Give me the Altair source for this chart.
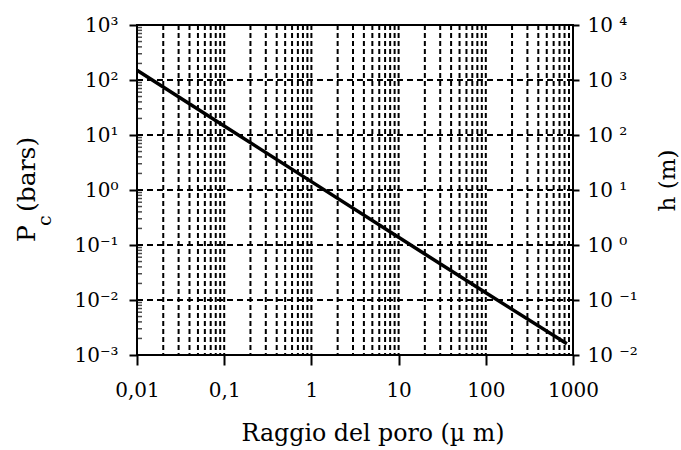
import math
import altair as alt
import pandas as pd

# Values
radius_um = [0.01, 0.1, 1, 10, 100, 850]
pc_bars = [150, 14.6, 1.42, 0.138, 0.0135, 0.0016]
h_m = [v * 10.2 for v in pc_bars]  # right axis scale: metres of water

x_major = [0.01, 0.1, 1, 10, 100, 1000]
x_grid = [m * d for d in [0.01, 0.1, 1, 10, 100] for m in range(2, 11)]
y_left_major = [1e-3, 1e-2, 1e-1, 1, 10, 100, 1000]
y_left_grid = [1e-2, 1e-1, 1, 10, 100]
y_left_minor = [m * d for d in [1e-3, 1e-2, 1e-1, 1, 10, 100] for m in range(2, 10)]
y_right_major = [1e-2, 1e-1, 1, 10, 100, 1000, 1e4]
x_labels = {0.01: "0,01", 0.1: "0,1", 1: "1", 10: "10", 100: "100", 1000: "1000"}
x_title = "Raggio del poro (µ m)"

FONT = "DejaVu Serif"
W, H = 436, 330

line_df = pd.DataFrame({"r": radius_um, "pc": pc_bars, "h": h_m})
vgrid_df = pd.DataFrame({"r": x_grid})
hgrid_df = pd.DataFrame({"pc": y_left_grid})
minor_df = pd.DataFrame({"pc": y_left_minor})

xscale = alt.Scale(type="log", domain=[0.01, 1000], nice=False)
yscale = alt.Scale(type="log", domain=[1e-3, 1e3], nice=False)
hscale = alt.Scale(type="log", domain=[1e-2, 1e4], nice=False)

sup = {"-3": "⁻³", "-2": "⁻²", "-1": "⁻¹", "0": "⁰", "1": "¹", "2": "²", "3": "³", "4": "⁴"}
def pow_expr(space):
    e = "round(log(datum.value)/LN10)"
    expr = "''"
    for k, v in sup.items():
        expr = f"({e} == {k} ? '10{space}{v}' : {expr})"
    return expr

xlab = "''"
for v, t in x_labels.items():
    xlab = f"(abs(log(datum.value)/LN10 - ({round(math.log10(v))})) < 0.01 ? '{t}' : {xlab})"

x_axis = alt.Axis(
    values=x_major, grid=False, domain=False, ticks=True, tickSize=10, tickWidth=2,
    tickColor="black", labelExpr=xlab, labelFont=FONT, labelFontSize=20,
    labelColor="black", labelPadding=15, labelFlush=False, title=None,
)
y_axis = alt.Axis(
    values=y_left_major, grid=False, domain=False, tickSize=8, tickWidth=2,
    tickColor="black", labelExpr=pow_expr(""), labelFont=FONT, labelFontSize=20,
    labelColor="black", labelPadding=11, labelFlush=False, title=None,
)
h_axis = alt.Axis(
    orient="right", values=y_right_major, grid=False, domain=False, tickSize=6,
    tickWidth=2, tickColor="black", labelExpr=pow_expr(" "), labelFont=FONT,
    labelFontSize=20, labelColor="black", labelPadding=8, labelFlush=False,
    title="h (m)", titleFont=FONT, titleFontSize=23, titleFontWeight="normal",
    titleColor="black", titleAngle=270, titleX=94, titleY=155,
    titleAlign="center", titleBaseline="middle",
)

line = alt.Chart(line_df).mark_line(color="black", strokeWidth=3.5).encode(
    x=alt.X("r:Q", scale=xscale, axis=x_axis),
    y=alt.Y("pc:Q", scale=yscale, axis=y_axis),
)

vgrid = alt.Chart(vgrid_df).mark_rule(
    color="black", strokeWidth=2, strokeDash=[5, 3]
).encode(x=alt.X("r:Q", scale=xscale, axis=x_axis))

hgrid = alt.Chart(hgrid_df).mark_rule(
    color="black", strokeWidth=2, strokeDash=[6, 4]
).encode(y=alt.Y("pc:Q", scale=yscale, axis=y_axis))

minor = alt.Chart(minor_df).mark_tick(
    color="black", orient="horizontal", size=6, thickness=1.5
).encode(y=alt.Y("pc:Q", scale=yscale, axis=y_axis), x=alt.value(2))

one = alt.Data(values=[{"a": 1}])
def txt(s, size, x, y, angle=270, align="left"):
    return alt.Chart(one).mark_text(
        text=s, angle=angle, font=FONT, fontSize=size, align=align,
        baseline="alphabetic", color="black"
    ).encode(x=alt.value(x), y=alt.value(y))

tP = txt("P", 25, -102, 217)
tc = txt("c", 19, -86, 201)
tb = txt("(bars)", 25, -102, 187)
tx = txt(x_title, 23.7, 236, 86 + H, angle=0, align="center")

left = alt.layer(line, vgrid, hgrid, minor, tP, tc, tb, tx)

right = alt.Chart(line_df).mark_line(opacity=0).encode(
    x=alt.X("r:Q", scale=xscale, axis=x_axis),
    y=alt.Y("h:Q", scale=hscale, axis=h_axis),
)

chart = (
    alt.layer(left, right)
    .resolve_scale(y="independent")
    .properties(
        width=W, height=H,
        padding={"left": 137, "top": 25, "right": 681 - 137 - W, "bottom": 450 - 25 - H},
        autosize=alt.AutoSizeParams(type="none"),
        background="white",
    )
    .configure_view(stroke="black", strokeWidth=2)
    .configure_axis(titleFont=FONT, labelFont=FONT, titleFontWeight="normal")
)

chart.save("out.html", embed_options={"renderer": "svg", "actions": False})
